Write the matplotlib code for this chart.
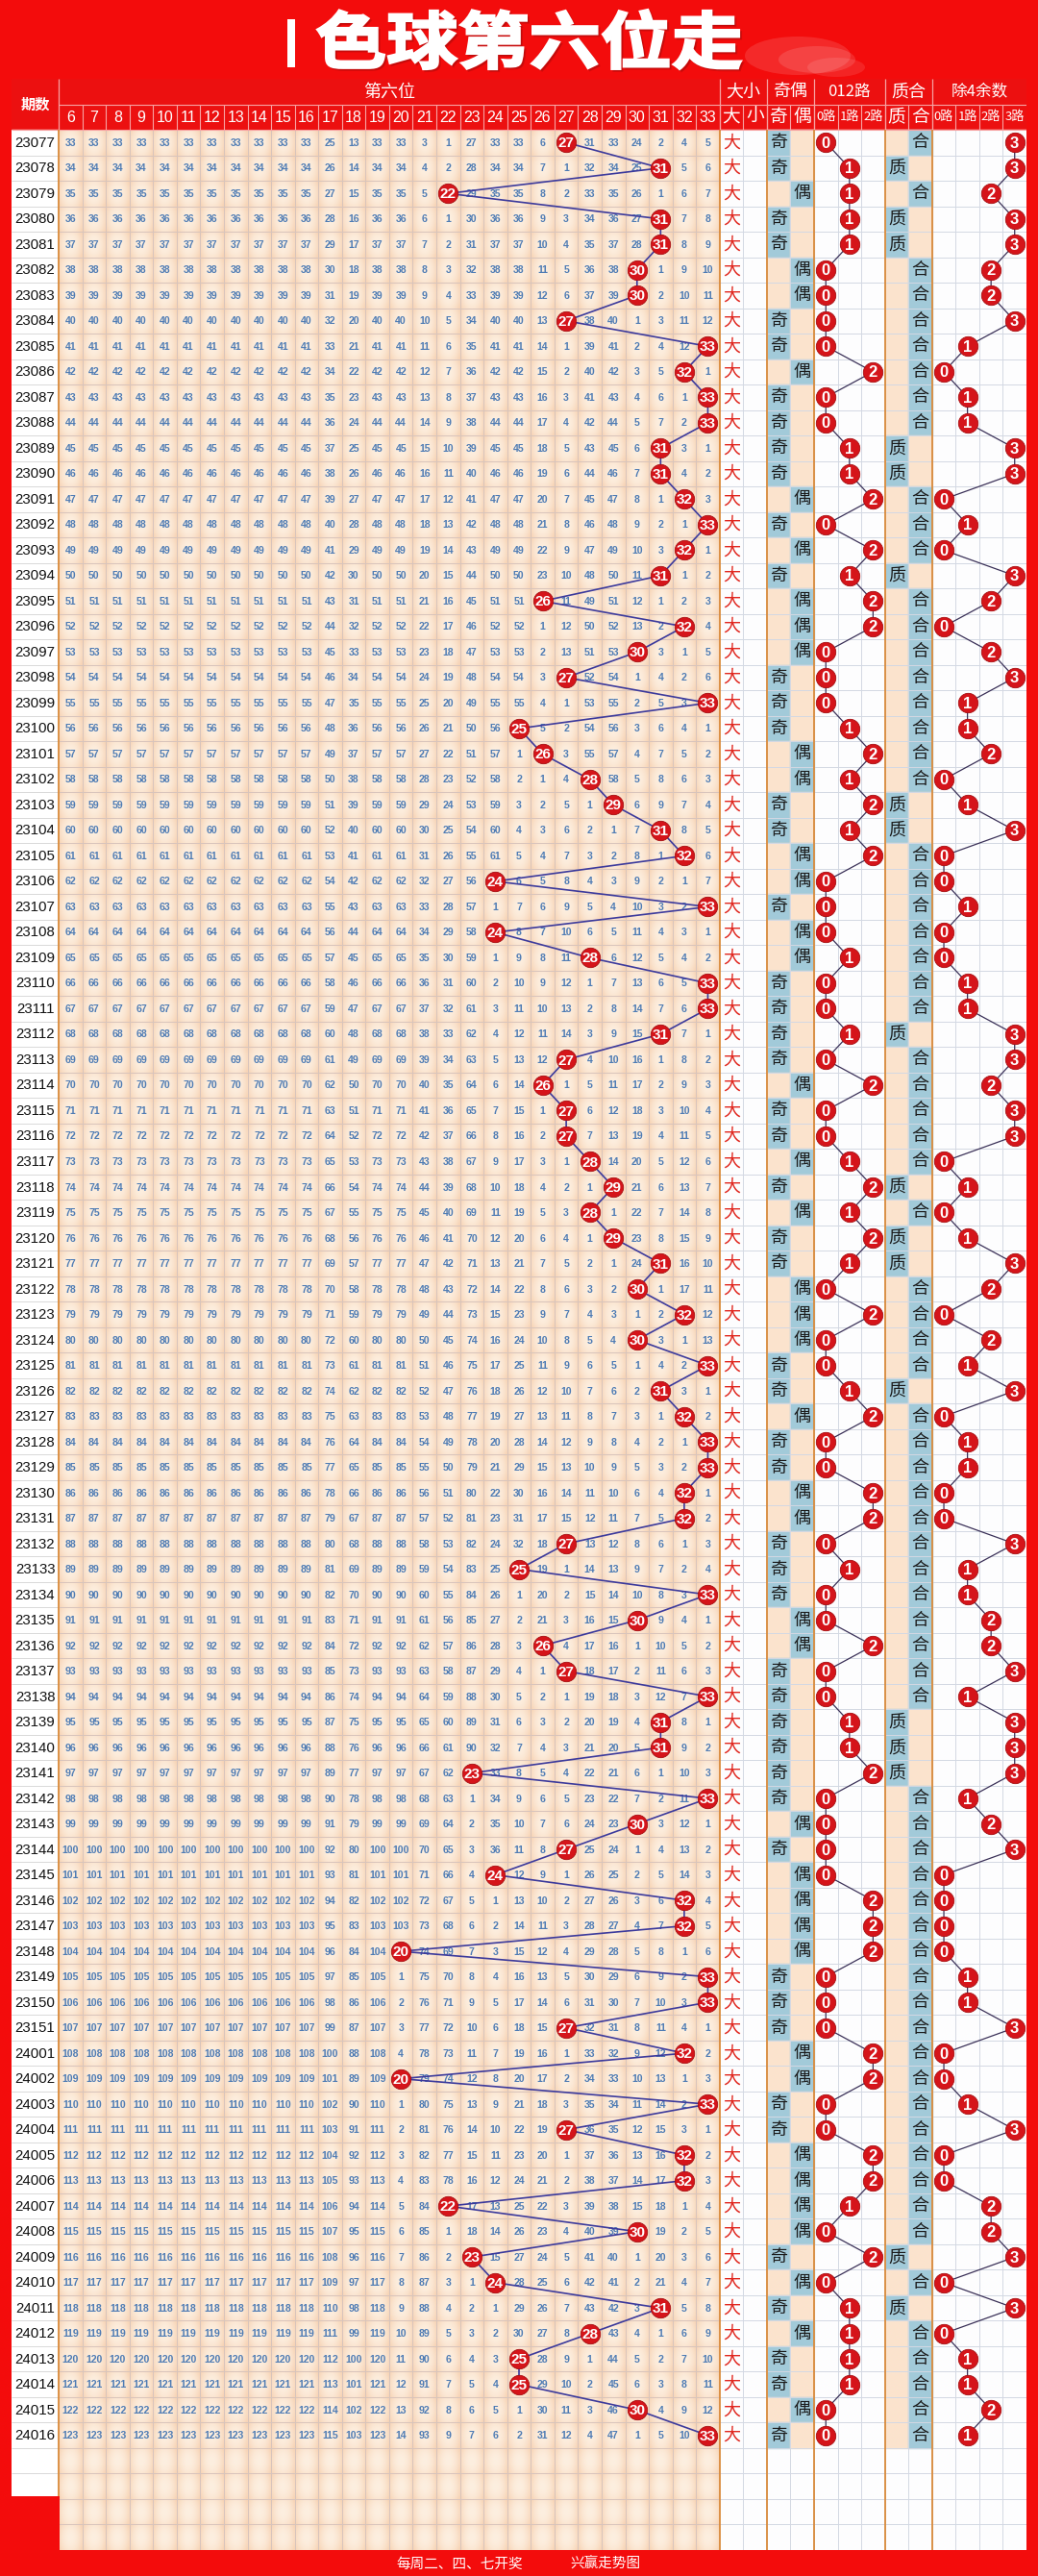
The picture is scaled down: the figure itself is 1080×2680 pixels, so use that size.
import numpy as np
import matplotlib
matplotlib.use("Agg")
import matplotlib.pyplot as plt
from matplotlib import font_manager
from matplotlib.patches import Rectangle, PathPatch, Ellipse
from matplotlib.textpath import TextPath
from matplotlib.font_manager import FontProperties
from matplotlib.transforms import Affine2D

# ---------------------------------------------------------------- data
ISSUES = [str(n) for n in range(23077, 23152)] + [str(n) for n in range(24001, 24017)]
SIXTH_BALL = [
    27, 31, 22, 31, 31, 30, 30, 27, 33, 32, 33, 33, 31,
    31, 32, 33, 32, 31, 26, 32, 30, 27, 33, 25, 26, 28,
    29, 31, 32, 24, 33, 24, 28, 33, 33, 31, 27, 26, 27,
    27, 28, 29, 28, 29, 31, 30, 32, 30, 33, 31, 32, 33,
    33, 32, 32, 27, 25, 33, 30, 26, 27, 33, 31, 31, 23,
    33, 30, 27, 24, 32, 32, 20, 33, 33, 27, 32, 20, 33,
    27, 32, 32, 22, 30, 23, 24, 31, 28, 25, 25, 30, 33,
]
BALL_COLS = list(range(6, 34))
# omission counts shown on the first issue (0 = drawn)
FIRST_ROW_MISS = [33] * 11 + [25, 13, 33, 33, 3, 1, 27, 33, 33, 6, 0, 31, 33, 24, 2, 4, 5]
GROUPS = [("大小", 2), ("奇偶", 2), ("012路", 3), ("质合", 2), ("除4余数", 4)]
SUB_LABELS = ["大", "小", "奇", "偶", "0路", "1路", "2路", "质", "合", "0路", "1路", "2路", "3路"]
PRIMES = {1, 2, 3, 5, 7, 11, 13, 17, 19, 23, 29, 31}
TITLE = "色球第六位走"
FOOTER_LEFT = "每周二、四、七开奖"
FOOTER_RIGHT = "兴赢走势图"
EMPTY_ROWS = 4

# ---------------------------------------------------------------- style
RED_BG = "#f30c0c"
HEAD_RED = "#ec1010"
HEAD_LINE = "#f7a3a3"
PEACH = "#fbe3cd"
BLUE_CELL = "#a2cad9"
OMIT_BLUE = "#4f7cb4"
BALL_RED = "#d5141a"
LINE_BLUE = "#3c3a9c"
LINE_DARK = "#3b3158"
SEP_ORANGE = "#d98a3a"
GRID_WARM = "#d8c4bc"
GRID_COOL = "#d3d8e3"

plt.rcParams["font.family"] = ["Noto Sans CJK SC", "DejaVu Sans"]
names = {f.name for f in font_manager.fontManager.ttflist}
NUM_FAMILY = "Liberation Sans Narrow" if "Liberation Sans Narrow" in names else "Liberation Sans"
NS = 1.18 if NUM_FAMILY == "Liberation Sans Narrow" else 1.0

W, H = 1080, 2680
fig = plt.figure(figsize=(W / 100, H / 100), dpi=100, facecolor=RED_BG)

n_rows = len(SIXTH_BALL)
total_rows = n_rows + EMPTY_ROWS
n_ball = len(BALL_COLS)
n_right = len(SUB_LABELS)
x_end = n_ball + n_right

# table axes: x in column units (issue column spans -2..0), y in row units (header -2..0)
left_px, right_px, top_px, bot_px = 12, 1068, 82, 2653
ax = fig.add_axes([left_px / W, 1 - bot_px / H, (right_px - left_px) / W, (bot_px - top_px) / H])
ax.set_xlim(-2, x_end)
ax.set_ylim(total_rows, -2)
ax.axis("off")

# ---------------------------------------------------------------- backgrounds
ax.add_patch(Rectangle((-2, -2), x_end + 2, 2, color=HEAD_RED, zorder=0))
ax.add_patch(Rectangle((-2, 0), 2, total_rows, color="white", zorder=0))
ax.add_patch(Rectangle((n_ball, 0), n_right, total_rows, color="#fdfdfe", zorder=0))

# shaded cells of the number area
sx, sy = 24, 26
u = ((np.arange(sx) + 0.5) / sx) * 2 - 1
v = ((np.arange(sy) + 0.5) / sy) * 2 - 1
t = np.clip(0.8 * u[None, :] ** 2 + 0.35 * v[:, None] ** 2, 0, 1)
light = np.array([253, 239, 224]) / 255
dark = np.array([247, 212, 182]) / 255
cell = light[None, None, :] * (1 - t[..., None]) + dark[None, None, :] * t[..., None]
img = np.tile(cell, (total_rows, n_ball, 1))
ax.imshow(img, extent=(0, n_ball, total_rows, 0), aspect="auto",
          interpolation="bilinear", zorder=0.5)

# ---------------------------------------------------------------- derived columns
odd_col = n_ball + 2
route_col = n_ball + 4
prime_col = n_ball + 7
mod4_col = n_ball + 9

for r, val in enumerate(SIXTH_BALL):
    oe = 0 if val % 2 == 1 else 1
    pc = 0 if val in PRIMES else 1
    for k in range(2):
        ax.add_patch(Rectangle((odd_col + k, r), 1, 1,
                               color=BLUE_CELL if k == oe else PEACH, zorder=0.6))
        ax.add_patch(Rectangle((prime_col + k, r), 1, 1,
                               color=BLUE_CELL if k == pc else PEACH, zorder=0.6))

# ---------------------------------------------------------------- grid
ax.hlines(np.arange(1, total_rows), 0, n_ball, color=GRID_WARM, lw=0.7, zorder=1)
ax.hlines(np.arange(1, total_rows), n_ball, x_end, color=GRID_COOL, lw=0.7, zorder=1)
ax.hlines(np.arange(1, total_rows), -2, 0, color="#d9d9d9", lw=0.7, zorder=1)
ax.vlines(np.arange(1, n_ball), 0, total_rows, color=GRID_WARM, lw=0.7, zorder=1)
ax.vlines(np.arange(n_ball + 1, x_end), 0, total_rows, color=GRID_COOL, lw=0.7, zorder=1)
seps = [0, n_ball]
acc = n_ball
for _, span in GROUPS[:-1]:
    acc += span
    seps.append(acc)
ax.vlines(seps, 0, total_rows, color=SEP_ORANGE, lw=1.3, zorder=1.2)

# header lines
ax.vlines(np.arange(1, x_end), -1, 0, color=HEAD_LINE, lw=0.8, zorder=1)
ax.vlines(seps, -2, 0, color=HEAD_LINE, lw=0.9, zorder=1)
ax.hlines([-1], 0, x_end, color=HEAD_LINE, lw=0.8, zorder=1)
ax.hlines([0], -2, x_end, color=HEAD_LINE, lw=0.8, zorder=1)

# ---------------------------------------------------------------- header text
ax.text(-1, -1, "期数", color="white", fontsize=11, ha="center", va="center", weight="bold")
ax.text(n_ball / 2, -1.5, "第六位", color="white", fontsize=13, ha="center", va="center")
for i, b in enumerate(BALL_COLS):
    ax.text(i + 0.5, -0.47, str(b), color="white", fontsize=11.5 * NS, family=NUM_FAMILY,
            ha="center", va="center")
acc = n_ball
for name, span in GROUPS:
    ax.text(acc + span / 2, -1.5, name, color="white", fontsize=13 if len(name) == 2 else 12,
            ha="center", va="center")
    acc += span
for j, lab in enumerate(SUB_LABELS):
    ax.text(n_ball + j + 0.5, -0.5, lab, color="white",
            fontsize=13.5 if len(lab) == 1 else 9.5, ha="center", va="center")

# ---------------------------------------------------------------- number area
miss = list(FIRST_ROW_MISS)
for r, val in enumerate(SIXTH_BALL):
    if r > 0:
        miss = [0 if b == val else m + 1 for b, m in zip(BALL_COLS, miss)]
    ax.text(-1, r + 0.52, ISSUES[r], color="#111111", fontsize=10.8 * NS, family=NUM_FAMILY,
            ha="center", va="center")
    for i, m in enumerate(miss):
        if m:
            ax.text(i + 0.5, r + 0.52, str(m), color=OMIT_BLUE, fontsize=7.6 * NS,
                    family=NUM_FAMILY, weight="bold", ha="center", va="center", zorder=2)

rows = np.arange(n_rows) + 0.5
balls = np.array(SIXTH_BALL)
bx = balls - BALL_COLS[0] + 0.5
ax.plot(bx, rows, color=LINE_BLUE, lw=1.2, zorder=3)
ax.scatter(bx, rows, s=215, c=BALL_RED, edgecolors="#a50d10", linewidths=0.6, zorder=4)
for x, y, b in zip(bx, rows, balls):
    ax.text(x, y + 0.04, str(b), color="white", fontsize=11 * NS, family=NUM_FAMILY,
            weight="bold", ha="center", va="center", zorder=5)

# ---------------------------------------------------------------- derived columns text
for r, val in enumerate(SIXTH_BALL):
    y = r + 0.5
    big = val >= 17
    ax.text(n_ball + (0.5 if big else 1.5), y, "大" if big else "小", color="#e0261e",
            fontsize=13, ha="center", va="center", zorder=2)
    oe = 0 if val % 2 == 1 else 1
    ax.text(odd_col + oe + 0.5, y, "奇" if oe == 0 else "偶", color="#1b1b1b",
            fontsize=13, ha="center", va="center", zorder=2)
    pc = 0 if val in PRIMES else 1
    ax.text(prime_col + pc + 0.5, y, "质" if pc == 0 else "合", color="#1b1b1b",
            fontsize=13, ha="center", va="center", zorder=2)

for base, mod in [(route_col, 3), (mod4_col, 4)]:
    rem = balls % mod
    xs = base + rem + 0.5
    ax.plot(xs, rows, color=LINE_DARK, lw=0.9, zorder=3)
    ax.scatter(xs, rows, s=215, c=BALL_RED, edgecolors="#a50d10", linewidths=0.6, zorder=4)
    for x, y, d in zip(xs, rows, rem):
        ax.text(x, y + 0.04, str(d), color="white", fontsize=12 * NS, family=NUM_FAMILY,
                weight="bold", ha="center", va="center", zorder=5)

# ---------------------------------------------------------------- overlay: title, footer
ov = fig.add_axes([0, 0, 1, 1], zorder=10)
ov.set_xlim(0, W)
ov.set_ylim(H, 0)
ov.axis("off")
ov.patch.set_alpha(0)

fp = FontProperties(family="Noto Sans CJK SC", weight="heavy")
tp = TextPath((0, 0), TITLE, size=100, prop=fp)
bb = tp.get_extents()
tx0, tx1, ty0, ty1 = 330, 771, 10, 72
scx = (tx1 - tx0) / bb.width
scy = (ty1 - ty0) / bb.height
tr = Affine2D().translate(-bb.x0, -bb.y1).scale(scx, -scy).translate(tx0, ty0)
title_path = tr.transform_path(tp)
ov.add_patch(PathPatch(title_path, facecolor="#8a0b0b", edgecolor="#8a0b0b", lw=1.5,
                       alpha=0.3, transform=Affine2D().translate(2, 2) + ov.transData))
ov.add_patch(PathPatch(title_path, facecolor="white", edgecolor="white", lw=1.6))
# clipped stroke of the leading character
ov.add_patch(Rectangle((299, 20), 8, 50, facecolor="white", edgecolor="none"))
# faded remnants to the right of the title
for cx, cy, ew, eh, a in [(830, 58, 110, 40, 0.12), (850, 62, 80, 28, 0.12), (870, 70, 60, 20, 0.1)]:
    ov.add_patch(Ellipse((cx, cy), ew, eh, facecolor="white", edgecolor="none", alpha=a))

# lower-left red corner
ov.add_patch(Rectangle((0, 2597), 62, 60, facecolor=RED_BG, edgecolor="none"))

ov.text(478, 2668, FOOTER_LEFT, color="white", fontsize=10.5, ha="center", va="center")
ov.text(630, 2668, FOOTER_RIGHT, color="white", fontsize=10.5, ha="center", va="center")

fig.savefig("out.png", dpi=100, facecolor=RED_BG)
